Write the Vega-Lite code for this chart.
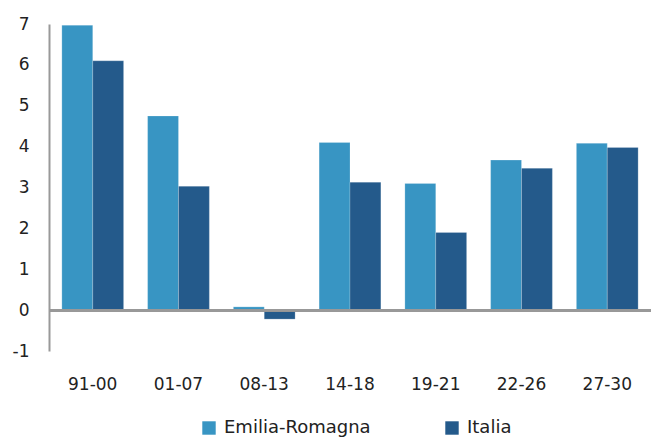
{
  "$schema": "https://vega.github.io/schema/vega-lite/v6.json",
  "width": 602,
  "height": 327,
  "autosize": "none",
  "padding": {"left": 49, "top": 24, "right": 1, "bottom": 90},
  "background": "white",
  "config": {"view": {"stroke": null}, "font": "DejaVu Sans"},
  "data": {"values": [
    {"period": "91-00", "serie": "Emilia-Romagna", "value": 6.97},
    {"period": "91-00", "serie": "Italia", "value": 6.1},
    {"period": "01-07", "serie": "Emilia-Romagna", "value": 4.75},
    {"period": "01-07", "serie": "Italia", "value": 3.03},
    {"period": "08-13", "serie": "Emilia-Romagna", "value": 0.08},
    {"period": "08-13", "serie": "Italia", "value": -0.22},
    {"period": "14-18", "serie": "Emilia-Romagna", "value": 4.1},
    {"period": "14-18", "serie": "Italia", "value": 3.13},
    {"period": "19-21", "serie": "Emilia-Romagna", "value": 3.1},
    {"period": "19-21", "serie": "Italia", "value": 1.9},
    {"period": "22-26", "serie": "Emilia-Romagna", "value": 3.67},
    {"period": "22-26", "serie": "Italia", "value": 3.47},
    {"period": "27-30", "serie": "Emilia-Romagna", "value": 4.08},
    {"period": "27-30", "serie": "Italia", "value": 3.98}
  ]},
  "layer": [
    {
      "mark": {"type": "bar", "stroke": "white", "strokeOpacity": 0.4, "strokeWidth": 0.5},
      "encoding": {
        "x": {"field": "period", "type": "nominal", "sort": null,
              "scale": {"paddingInner": 0.28, "paddingOuter": 0.15},
              "axis": {"title": null, "labelAngle": 0, "domain": false, "ticks": false,
                       "labelPadding": 25, "labelFontSize": 17, "labelColor": "#222"}},
        "xOffset": {"field": "serie", "type": "nominal"},
        "y": {"field": "value", "type": "quantitative",
              "scale": {"domain": [-1, 7], "nice": false},
              "axis": {"title": null, "grid": false, "ticks": false, "values": [-1,0,1,2,3,4,5,6,7],
                       "labelExpr": "'' + datum.value",
                       "domainColor": "#999", "domainWidth": 2, "labelPadding": 20,
                       "labelFontSize": 17, "labelColor": "#222"}},
        "color": {"field": "serie", "type": "nominal",
                  "scale": {"domain": ["Emilia-Romagna", "Italia"], "range": ["#3895C3", "#245A8B"]},
                  "legend": {"title": null, "orient": "none", "direction": "horizontal",
                             "legendX": 151, "legendY": 395, "symbolType": "square",
                             "symbolSize": 180, "symbolStrokeWidth": 0, "labelFontSize": 18,
                             "labelColor": "#222", "columnPadding": 72, "labelOffset": 6}}
      }
    },
    {
      "mark": {"type": "rule", "color": "#999", "strokeWidth": 2},
      "encoding": {"y": {"datum": 0}}
    }
  ]
}
